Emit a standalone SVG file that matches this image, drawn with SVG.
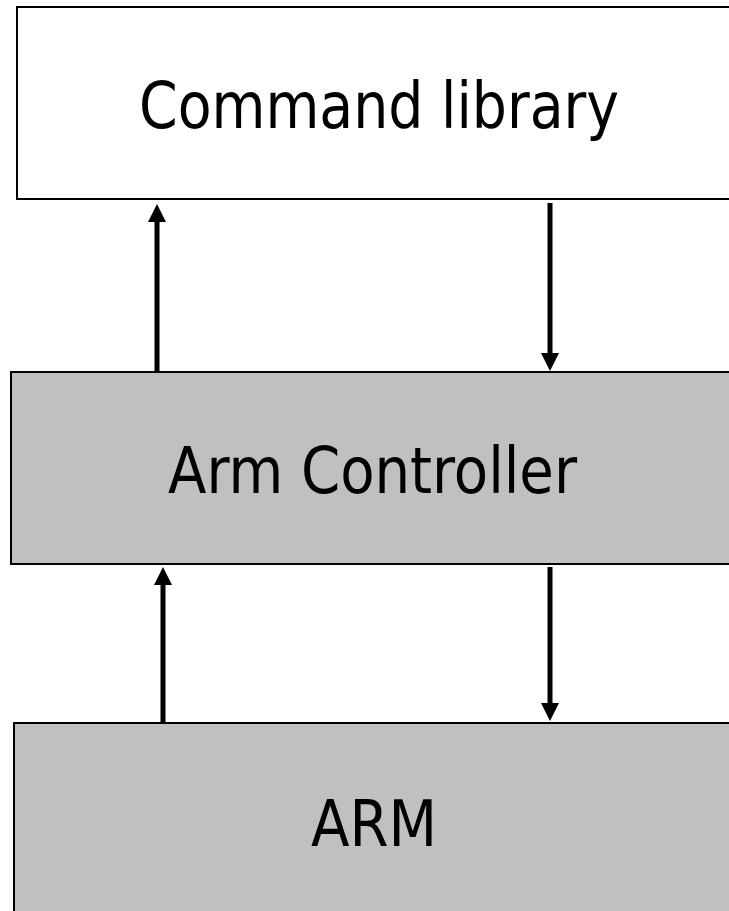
<svg xmlns="http://www.w3.org/2000/svg" width="729" height="911" viewBox="0 0 729 911">
  <style>
    .box { stroke: #000; stroke-width: 2; }
    .white { fill: #ffffff; }
    .gray { fill: #c0c0c0; }
    .label { font-family: "DejaVu Sans Condensed", "DejaVu Sans", sans-serif; font-size: 64px; fill: #000; text-anchor: middle; }
    .conn { stroke: #000; stroke-width: 5; fill: none; marker-end: url(#arrow); }
  </style>
  <defs>
    <marker id="arrow" markerUnits="userSpaceOnUse" markerWidth="18" markerHeight="18" viewBox="0 0 18 18" refX="0" refY="9" orient="auto" overflow="visible">
      <path d="M0,0 L18,9 L0,18 Z" fill="#000"/>
    </marker>
  </defs>
  <rect width="729" height="911" fill="#ffffff"/>
  <g id="command-library">
    <rect class="box white" x="17" y="7" width="730" height="192"/>
    <text class="label" x="379" y="128" textLength="480" lengthAdjust="spacingAndGlyphs">Command library</text>
  </g>
  <g id="arm-controller">
    <rect class="box gray" x="11" y="372" width="740" height="192"/>
    <text class="label" x="372.5" y="493" textLength="409" lengthAdjust="spacingAndGlyphs">Arm Controller</text>
  </g>
  <g id="arm">
    <rect class="box gray" x="14" y="723" width="740" height="210"/>
    <text class="label" x="374" y="846" textLength="126" lengthAdjust="spacingAndGlyphs">ARM</text>
  </g>
  <g id="connectors">
    <line class="conn" x1="157" y1="371" x2="157" y2="222"/>
    <line class="conn" x1="550" y1="203" x2="550" y2="353"/>
    <line class="conn" x1="163" y1="722" x2="163" y2="585"/>
    <line class="conn" x1="550" y1="567" x2="550" y2="703"/>
  </g>
</svg>
